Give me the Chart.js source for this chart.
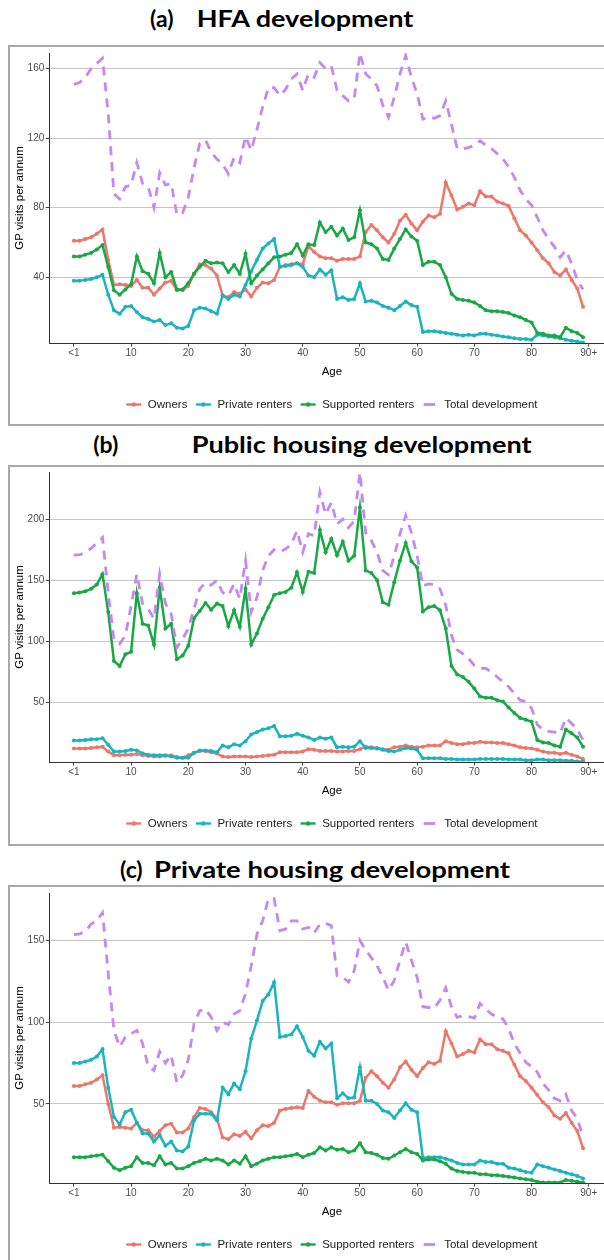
<!DOCTYPE html>
<html>
<head>
<meta charset="utf-8">
<script src="https://cdn.jsdelivr.net/npm/chart.js@4.4.0/dist/chart.umd.min.js"></script>
<style>
  html, body { margin: 0; padding: 0; background: #fff; }
  body { width: 604px; height: 1260px; overflow: hidden; position: relative; }
  .box { position: absolute; left: 8px; width: 640px; height: 377px; border: 2px solid #a9a9a9; }
  canvas { position: absolute; left: 0; }
  svg { position: absolute; left: 0; top: 0; }
  .ttl { font-family: Lato, 'Open Sans', sans-serif; font-weight: 700; font-size: 23px; fill: #000; }
</style>
</head>
<body>
<div class="box" style="top:45px"></div>
<div class="box" style="top:465px"></div>
<div class="box" style="top:885px"></div>
<svg width="604" height="1260">
  <text class="ttl" x="150" y="26.7">(a)</text>
  <text class="ttl" x="196.7" y="26.7" textLength="216.6" lengthAdjust="spacingAndGlyphs">HFA development</text>
  <text class="ttl" x="93.3" y="453">(b)</text>
  <text class="ttl" x="191.7" y="453" textLength="340" lengthAdjust="spacingAndGlyphs">Public housing development</text>
  <text class="ttl" x="120" y="878">(c)</text>
  <text class="ttl" x="154" y="878" textLength="356" lengthAdjust="spacingAndGlyphs">Private housing development</text>
</svg>
<canvas id="chartA" width="622" height="380" style="top:42.7px"></canvas>
<canvas id="chartB" width="622" height="380" style="top:462.3px"></canvas>
<canvas id="chartC" width="622" height="380" style="top:882.7px"></canvas>
<script>
// ages <1 .. 89, one point per year
const ages = Array.from({ length: 90 }, (_, i) => i);
const xTickAges = [0, 10, 20, 30, 40, 50, 60, 70, 80, 90];
const xTickLabels = ['<1', '10', '20', '30', '40', '50', '60', '70', '80', '90+'];
const seriesNames = ['Owners', 'Private renters', 'Supported renters', 'Total development'];
const seriesColors = ['#ED766B', '#19B4BF', '#18A845', '#C588F0'];

// (a) HFA development
const yTicksA = [40, 80, 120, 160];
const ownersA = [
  61, 61, 62, 63, 65, 67.5, 50, 35.5, 36, 35.5,
  35, 38.5, 34, 34, 30, 33.5, 37, 38, 32.5, 32.5,
  35, 42, 47.5, 47, 45, 41, 29.5, 28.5, 31.5, 30.5,
  33, 29, 34, 37, 36.5, 38.5, 46, 47, 47.5, 48,
  47.5, 58, 54.5, 52, 51, 51, 49.5, 50.5, 50.5, 50.5,
  52, 66, 70, 67, 63, 60, 65, 72.5, 76, 71,
  67, 72, 75.5, 74.5, 76.5, 94.5, 87, 79, 80.5, 82.5,
  81.5, 89.5, 86.5, 86.5, 83.5, 82.5, 81, 74, 67, 64,
  60, 55.5, 51, 48, 43, 41, 44.5, 38.5, 33.5, 23
];
const privateA = [
  38, 38, 38.5, 39, 40, 41.5, 30, 21, 19, 23,
  23.5, 20, 17, 16, 14.5, 15.5, 12.5, 13.5, 11, 10.5,
  12, 21, 22.5, 22, 20.5, 19, 29.5, 27.5, 30, 29,
  35.5, 43.5, 50, 56.5, 59.5, 62, 46, 46.5, 47, 48,
  46, 41, 40, 44.5, 41.5, 44, 27.5, 28.5, 27, 27.5,
  36.5, 26, 26.5, 25.5, 23.5, 22.5, 21, 23.5, 26, 24,
  23, 8.5, 9, 9, 8.5, 8, 7.5, 7, 6.5, 7,
  6.5, 7.5, 7.5, 7, 6.5, 6, 5.5, 5, 4.5, 4.5,
  4, 7, 6.5, 6, 5.5, 5, 4, 3.5, 3, 2.5
];
const supportedA = [
  52, 52, 53, 54, 56, 58.5, 46, 32.5, 30, 33,
  36, 52, 43.5, 42, 36.5, 54, 40, 43, 33, 33,
  36.5, 42, 46, 49.5, 48, 48.5, 48, 43, 47, 42,
  53.5, 36.5, 41, 44.5, 48, 51.5, 52, 53, 54, 59,
  52.5, 59, 58.5, 71.5, 66, 69, 64, 68, 61.5, 63,
  78.5, 60, 59, 56.5, 50.5, 50, 56.5, 62, 67.5, 63.5,
  61, 47, 49, 49, 47, 40, 30.5, 27.5, 27, 26.5,
  25.5, 23.5, 21, 20.5, 20.5, 20, 19.5, 18, 17, 15.5,
  14, 8, 7.5, 6.5, 6.5, 5.5, 11, 9, 8, 5.5
];
const totalA = [
  151, 152, 155, 160, 163, 166, 134, 88, 85, 92,
  93, 106, 94, 92, 80, 100, 93, 94, 76, 77,
  86, 103, 117, 119, 112, 108, 105, 99.5, 109, 106,
  121, 113, 125, 138, 149, 149, 144.5, 148, 154, 157,
  147.5, 157, 155, 163.5, 160, 161.5, 147.5, 144.5, 141.5, 142.5,
  169, 157, 154, 150, 139, 132, 143.5, 157, 167.5, 155,
  145.5, 131, 132, 131.5, 133, 141.5, 128, 114, 114, 114.5,
  116, 118.5, 116, 114, 111, 108, 103.5, 97.5, 90, 85,
  81.5, 74.5, 67, 62, 57.5, 51.5, 55.5, 48, 38.5, 33
];

// (b) Public housing development
const yTicksB = [50, 100, 150, 200];
const ownersB = [
  12.5, 12.5, 12.5, 13, 13.5, 14, 10, 7, 7, 7.5,
  7.5, 8, 7, 6.5, 6, 6, 6.5, 7, 5.5, 5,
  7, 9, 10.5, 10.5, 9.5, 8.5, 6, 5.5, 6, 6,
  6, 5.5, 6, 6.5, 7, 7.5, 9.5, 9.5, 9.5, 9.5,
  10, 12, 11.5, 10.5, 10.5, 10.5, 10, 10, 10.5, 10.5,
  12, 14, 13.5, 13, 12, 11.5, 13.5, 14, 15, 14,
  13.5, 14, 15, 15, 15, 18.5, 17, 16, 16, 17,
  17, 18, 17.5, 17.5, 17, 17, 16, 15, 13.5, 13,
  12.5, 11.5, 10, 9, 9, 8, 9, 7.5, 6, 4
];
const privateB = [
  19, 19, 19.5, 20, 20, 21, 15.5, 10, 10, 10.5,
  11.5, 11, 8.5, 7.5, 7, 7, 7, 6, 5, 5,
  5, 9, 11, 11, 10.5, 9.5, 15, 13.5, 16, 15,
  18.5, 24, 26, 28, 29, 31, 22.5, 22.5, 23, 24.5,
  23, 21.5, 19.5, 21.5, 20.5, 21.5, 13.5, 14, 13.5, 14,
  18.5, 13, 13, 12.5, 11.5, 10.5, 10, 11.5, 13, 12.5,
  11.5, 4.5, 4.5, 4.5, 4.5, 4, 4, 3.5, 3.5, 3.5,
  3.5, 4, 4, 4, 4, 4, 3.5, 3.5, 3.5, 3,
  3, 3.5, 3.5, 3, 3, 3, 2.5, 2.5, 2, 2
];
const supportedB = [
  139.5, 140, 141, 143, 146.5, 155, 124, 84, 80, 89.5,
  91.5, 139.5, 114.5, 113, 97.5, 144, 110.5, 114.5, 85.5, 88.5,
  96.5, 119, 125, 131.5, 126, 131, 129, 112.5, 125.5, 112,
  143, 97.5, 106.5, 118.5, 128, 138, 139.5, 140.5, 144, 156.5,
  140.5, 157, 156, 191, 173, 184, 170.5, 181.5, 166, 170,
  209.5, 158, 156, 150, 132, 130, 148.5, 166, 180.5, 165.5,
  160.5, 124.5, 128, 129, 125.5, 110.5, 80, 73, 71, 67,
  61.5, 55, 54, 54, 52, 51, 46, 41.5, 37.5, 36,
  34.5, 19.5, 17.5, 17, 15, 14, 28, 25, 21.5, 14
];
const totalB = [
  170.5, 171, 172.5, 176, 180.5, 185, 140, 101, 98, 105,
  129, 155, 131, 126.5, 118.5, 155, 131, 122.5, 95, 102,
  110.5, 127, 143, 148, 146, 150, 140, 137.5, 147, 135,
  166, 124, 136, 158, 170, 175, 173, 175.5, 179.5, 190.5,
  173, 188, 186.5, 222, 204, 213.5, 196, 200, 193, 198.5,
  238, 189, 182.5, 173, 158, 154.5, 170, 188, 203, 189,
  170, 145.5, 147, 146.5, 143, 129.5, 105, 93, 90, 86,
  80.5, 78, 78, 75, 71, 67, 63, 57.5, 52, 51,
  45.5, 32, 28, 26.5, 26, 25, 37.5, 33, 28, 19.5
];

// (c) Private housing development
const yTicksC = [50, 100, 150];
const ownersC = ownersA; // owners line is the same in (a) and (c)
const privateC = [
  75, 75, 76, 77, 79, 83.5, 60, 42, 37.5, 45,
  46.5, 38.5, 32, 32, 27, 31, 24.5, 27, 21.5, 21,
  24, 40, 44, 44, 44, 40, 60, 56, 62.5, 59,
  70, 90, 101, 113, 117, 124.5, 91, 91.5, 92.5, 97.5,
  91, 82.5, 79.5, 88, 84, 87, 53.5, 56.5, 53.5, 54,
  72.5, 52, 52, 50, 46, 45, 41.5, 46, 50.5, 46.5,
  45, 17, 17.5, 17.5, 17.5, 16.5, 15.5, 14, 13, 13,
  13, 15.5, 14.5, 14.5, 13.5, 13.5, 11, 10.5, 9.5, 8.5,
  8, 13, 12, 11, 10, 9, 8, 7, 6, 4.5
];
const supportedC = [
  17.5, 17.5, 17.5, 18, 18.5, 19, 15, 11, 9.5, 11,
  12, 17.5, 14, 14, 12.5, 18, 13, 14, 10.5, 10.5,
  12, 14, 15, 16.5, 15.5, 16.5, 15.5, 13, 15.5, 13.5,
  18, 12, 13.5, 15.5, 16.5, 17.5, 17.5, 18, 18.5, 19.5,
  17.5, 19, 20, 23.5, 21.5, 23.5, 22, 22.5, 20.5, 21.5,
  26, 20.5, 20, 19, 17, 16.5, 18.5, 20.5, 22.5, 20.5,
  19.5, 15.5, 16, 16, 15, 13.5, 10.5, 9, 8.5, 8,
  8, 7, 7, 6.5, 6.5, 6, 5.5, 5, 4.5, 4,
  3.5, 2.5, 2, 2, 2, 2, 3.5, 3, 2.5, 2
];
const totalC = [
  153.5, 154, 155.5, 160, 162, 167, 130, 95, 85, 91,
  93, 95, 87, 73, 70.5, 82, 75, 80, 63, 67.5,
  77, 99, 107, 108, 103, 95, 100, 98.5, 105, 107,
  117.5, 134.5, 154, 162, 175.5, 175.5, 156, 157, 162, 162,
  157, 158, 154.5, 160, 160.5, 159, 128.5, 127.5, 124.5, 131.5,
  150, 144, 139.5, 134.5, 127.5, 119.5, 125.5, 138, 149, 138,
  127.5, 109.5, 109, 108.5, 113.5, 121, 109.5, 103, 104, 103.5,
  102.5, 111.5, 108, 105, 103, 102, 96, 87, 81, 75.5,
  73, 69.5, 62.5, 58.5, 53.5, 52, 56, 46, 41, 30
];

Chart.defaults.font.family = "'Liberation Sans', Arial, sans-serif";

// ggplot-like legend under the x axis title: line key with a dot, dashed key for total
const legendKeys = {
  id: 'legendKeys',
  afterDraw(chart) {
    const { ctx, chartArea } = chart;
    const y = chartArea.bottom + 61.5;
    ctx.save();
    ctx.font = "11.5px 'Liberation Sans', Arial, sans-serif";
    const widths = seriesNames.map(n => 21.5 + ctx.measureText(n).width);
    const total = widths.reduce((a, b) => a + b, 0) + 8.5 * (seriesNames.length - 1);
    let x = (chartArea.left + chartArea.right) / 2 - total / 2;
    seriesNames.forEach((name, i) => {
      ctx.strokeStyle = seriesColors[i];
      ctx.fillStyle = seriesColors[i];
      ctx.beginPath();
      if (i === 3) {
        ctx.lineWidth = 2.8;
        ctx.moveTo(x + 1, y);
        ctx.lineTo(x + 12.5, y);
        ctx.stroke();
      } else {
        ctx.lineWidth = 2.4;
        ctx.moveTo(x, y);
        ctx.lineTo(x + 15, y);
        ctx.stroke();
        ctx.beginPath();
        ctx.arc(x + 7.5, y, 2.3, 0, Math.PI * 2);
        ctx.fill();
      }
      ctx.fillStyle = '#222';
      ctx.textBaseline = 'middle';
      ctx.fillText(name, x + 21.5, y);
      x += widths[i] + 8.5;
    });
    ctx.restore();
  }
};

function line(values, i) {
  const dashed = i === 3;
  return {
    label: seriesNames[i],
    data: ages.map((a, k) => ({ x: a, y: values[k] })),
    borderColor: seriesColors[i],
    backgroundColor: seriesColors[i],
    borderWidth: dashed ? 2.8 : 2.5,
    borderDash: dashed ? [9, 7] : [],
    pointRadius: dashed ? 0 : 2,
    pointBorderWidth: 0,
    pointHoverRadius: 0,
    tension: 0,
    fill: false,
    order: 3 - i
  };
}

function makeChart(id, series, yMin, yMax, yTicks) {
  new Chart(document.getElementById(id), {
    type: 'line',
    data: { datasets: series.map((s, i) => line(s, i)) },
    options: {
      responsive: false,
      animation: false,
      layout: { padding: { top: 10, right: 7.5, bottom: 40, left: 0 } },
      plugins: { legend: { display: false }, tooltip: { enabled: false } },
      scales: {
        x: {
          type: 'linear',
          min: -4.3,
          max: 94.5,
          afterBuildTicks: s => { s.ticks = xTickAges.map(v => ({ value: v })); },
          afterFit: s => { s.height = 40; },
          ticks: {
            callback: (v, i) => xTickLabels[i],
            autoSkip: false, maxRotation: 0,
            color: '#4d4d4d', font: { size: 10 }, padding: 1
          },
          grid: { drawOnChartArea: false, tickLength: 3.5, tickColor: '#444' },
          border: { color: '#333', width: 1 },
          title: { display: true, text: 'Age', color: '#000', font: { size: 11.5 }, padding: { top: 0, bottom: 4.4 } }
        },
        y: {
          min: yMin,
          max: yMax,
          afterBuildTicks: s => { s.ticks = yTicks.map(v => ({ value: v })); },
          afterFit: s => { s.width = 49.3; },
          ticks: { color: '#4d4d4d', font: { size: 10 }, padding: 1.5 },
          grid: { color: '#c6c6c6', lineWidth: 1, tickLength: 3.5, tickColor: '#444' },
          border: { color: '#333', width: 1 },
          title: { display: true, text: 'GP visits per annum', color: '#000', font: { size: 11.5 }, padding: { top: 13, bottom: 0 } }
        }
      }
    },
    plugins: [legendKeys]
  });
}

makeChart('chartA', [ownersA, privateA, supportedA, totalA], 2.2, 169, yTicksA);
makeChart('chartB', [ownersB, privateB, supportedB, totalB], 1.5, 238.5, yTicksB);
makeChart('chartC', [ownersC, privateC, supportedC, totalC], 1.7, 179, yTicksC);
</script>
</body>
</html>
